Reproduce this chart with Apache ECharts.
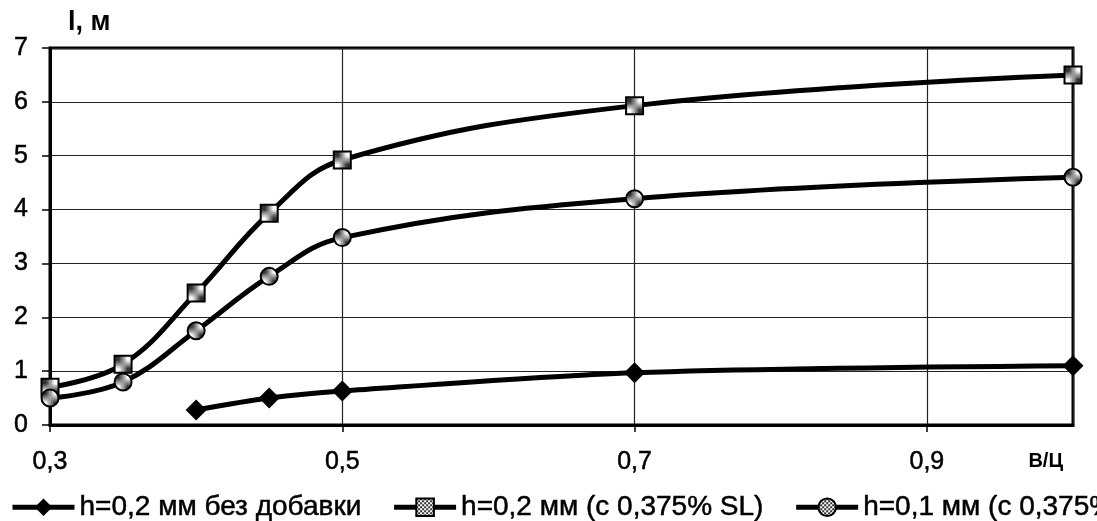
<!DOCTYPE html>
<html>
<head>
<meta charset="utf-8">
<script src="https://cdn.jsdelivr.net/npm/echarts@6/dist/echarts.min.js"></script>
<style>
  html, body { margin: 0; padding: 0; background: #fff; }
  #chart { width: 1097px; height: 521px; }
</style>
</head>
<body>
<div id="chart"></div>
<script>
// В/Ц ratio values (x) and length l, м (y) for each mix
const seriesNames = [
  'h=0,2 мм без добавки',
  'h=0,2 мм (с 0,375% SL)',
  'h=0,1 мм (с 0,375% SL)'
];
const xPlain = [0.4, 0.45, 0.5, 0.7, 1.0];
const yPlain = [0.28, 0.5, 0.63, 0.97, 1.1];
const xAdditive = [0.3, 0.35, 0.4, 0.45, 0.5, 0.7, 1.0];
const yThickSL = [0.7, 1.13, 2.45, 3.93, 4.92, 5.93, 6.5];
const yThinSL = [0.5, 0.8, 1.75, 2.76, 3.48, 4.2, 4.6];

const FONT = "'Liberation Sans', Arial, sans-serif";

// checkered fill used inside the square and round markers
function checkerPattern() {
  const c = document.createElement('canvas');
  c.width = 4; c.height = 4;
  const g = c.getContext('2d');
  g.fillStyle = '#ffffff';
  g.fillRect(0, 0, 4, 4);
  g.fillStyle = '#333333';
  g.fillRect(0, 0, 2, 2);
  g.fillRect(2, 2, 2, 2);
  return { image: c, repeat: 'repeat' };
}
const hatch = checkerPattern();

function pairs(xs, ys) {
  return xs.map((x, i) => [x, ys[i]]);
}

const chart = echarts.init(document.getElementById('chart'), null, { renderer: 'canvas' });

const lineStyle = { color: '#000', width: 5 };
// slightly heavier glyph strokes for the printed-style text
const heavy = { textBorderColor: '#000', textBorderWidth: 0.5 };

chart.setOption({
  animation: false,
  backgroundColor: '#fff',
  textStyle: { fontFamily: FONT, color: '#000' },
  grid: {
    left: 50, right: 24, top: 48, bottom: 96,
    show: true, borderColor: '#000', borderWidth: 3
  },
  legend: {
    left: 10, top: 493, width: 2000, padding: 0,
    itemWidth: 62, itemHeight: 22, itemGap: 30,
    lineStyle: { width: 5 },
    textStyle: Object.assign({ fontSize: 28, fontFamily: FONT, color: '#000' }, heavy),
    data: seriesNames
  },
  xAxis: {
    type: 'value',
    min: 0.3, max: 1.0, interval: 0.2,
    name: 'В/Ц',
    nameLocation: 'end',
    nameGap: -10,
    nameTextStyle: {
      fontSize: 20, fontWeight: 'bold', fontFamily: FONT, color: '#000',
      align: 'right', verticalAlign: 'top', padding: [26, 0, 0, 0]
    },
    axisLine: { show: true, lineStyle: { color: '#000', width: 3 } },
    axisTick: { show: true, inside: false, length: 7, lineStyle: { color: '#000', width: 1.5 } },
    axisLabel: Object.assign({
      margin: 25, fontSize: 25, fontFamily: FONT, color: '#000',
      showMaxLabel: false,
      formatter: v => v.toFixed(1).replace('.', ',')
    }, heavy),
    splitLine: { show: true, lineStyle: { color: '#222', width: 1.2 } }
  },
  yAxis: {
    type: 'value',
    min: 0, max: 7, interval: 1,
    name: 'l, м',
    nameLocation: 'end',
    nameGap: 12,
    nameTextStyle: {
      fontSize: 27, fontWeight: 'bold', fontFamily: FONT, color: '#000',
      align: 'left', padding: [0, 0, 0, 18]
    },
    axisLine: { show: true, lineStyle: { color: '#000', width: 3 } },
    axisTick: { show: true, inside: false, length: 8, lineStyle: { color: '#000', width: 1.5 } },
    axisLabel: Object.assign({ margin: 22, fontSize: 25, fontFamily: FONT, color: '#000' }, heavy),
    splitLine: { show: true, lineStyle: { color: '#222', width: 1.2 } }
  },
  series: [
    {
      name: seriesNames[0], type: 'line', smooth: 0.3,
      data: pairs(xPlain, yPlain),
      symbol: 'diamond', symbolSize: [21, 21],
      lineStyle: lineStyle,
      itemStyle: { color: '#000', borderColor: '#000', borderWidth: 0 },
      z: 3
    },
    {
      name: seriesNames[1], type: 'line', smooth: 0.4,
      data: pairs(xAdditive, yThickSL),
      symbol: 'rect', symbolSize: 17,
      lineStyle: lineStyle,
      itemStyle: { color: hatch, borderColor: '#000', borderWidth: 2 },
      z: 3
    },
    {
      name: seriesNames[2], type: 'line', smooth: 0.4,
      data: pairs(xAdditive, yThinSL),
      symbol: 'circle', symbolSize: 17,
      lineStyle: lineStyle,
      itemStyle: { color: hatch, borderColor: '#000', borderWidth: 2 },
      z: 3
    }
  ]
});
</script>
</body>
</html>
